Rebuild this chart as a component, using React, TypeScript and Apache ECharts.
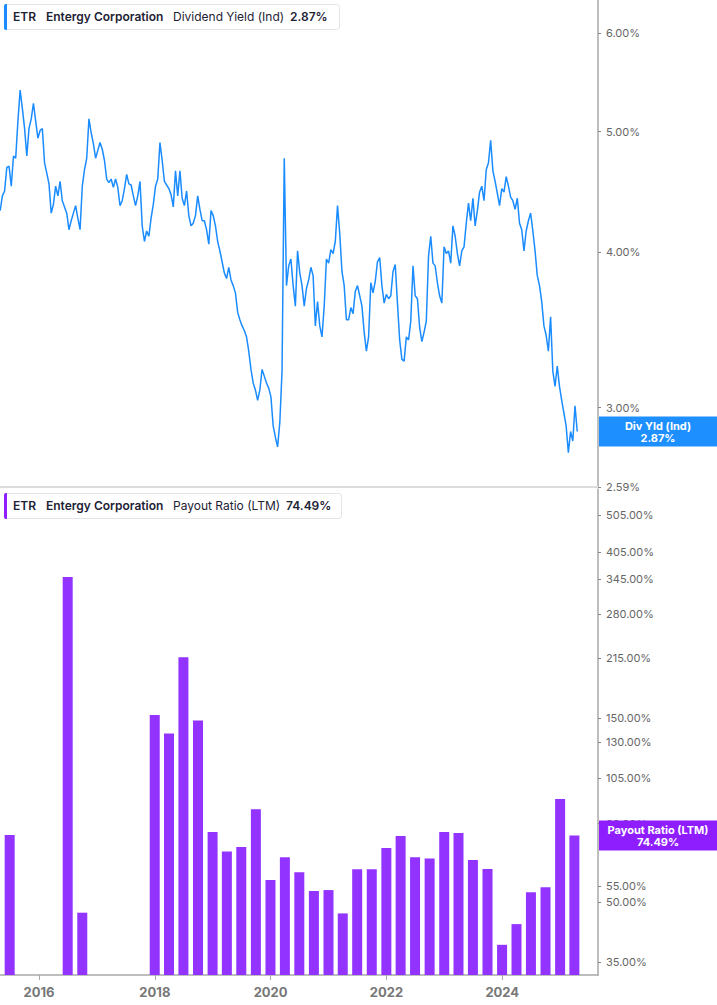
import * as echarts from 'echarts';
import { useEffect, useRef } from 'react';

// Dividend yield (Ind), %, one reading every two weeks from 2015-05-01
const yieldStart = '2015-05-01';
const yieldStepDays = 14;
const dividendYield = [
  4.32, 4.44, 4.48, 4.68, 4.69, 4.52, 4.78, 4.76, 5.10, 5.40,
  5.22, 5.03, 4.78, 5.03, 5.12, 5.27, 5.10, 4.94, 5.01, 5.03,
  4.72, 4.63, 4.54, 4.30, 4.37, 4.52, 4.44, 4.56, 4.40, 4.35,
  4.30, 4.17, 4.24, 4.30, 4.36, 4.26, 4.17, 4.52, 4.66, 4.76,
  5.12, 4.99, 4.89, 4.76, 4.83, 4.90, 4.84, 4.74, 4.58, 4.55,
  4.58, 4.51, 4.58, 4.51, 4.36, 4.40, 4.50, 4.62, 4.54, 4.53,
  4.44, 4.36, 4.44, 4.56, 4.20, 4.08, 4.16, 4.12, 4.26, 4.37,
  4.52, 4.58, 4.90, 4.74, 4.56, 4.53, 4.50, 4.45, 4.35, 4.65,
  4.44, 4.65, 4.42, 4.36, 4.48, 4.28, 4.20, 4.22, 4.28, 4.44,
  4.33, 4.24, 4.24, 4.17, 4.06, 4.32, 4.28, 4.20, 4.08, 4.01,
  3.93, 3.85, 3.81, 3.89, 3.80, 3.76, 3.71, 3.58, 3.53, 3.49,
  3.46, 3.42, 3.33, 3.22, 3.14, 3.10, 3.04, 3.10, 3.22, 3.18,
  3.14, 3.11, 3.06, 2.90, 2.84, 2.79, 2.92, 3.21, 4.76, 3.76,
  3.90, 3.95, 3.76, 3.62, 4.01, 3.85, 3.76, 3.62, 3.74, 3.80,
  3.89, 3.83, 3.49, 3.65, 3.49, 3.42, 3.62, 3.95, 3.92, 4.02,
  3.99, 4.08, 4.36, 4.14, 3.86, 3.76, 3.53, 3.53, 3.61, 3.57,
  3.72, 3.76, 3.69, 3.62, 3.45, 3.33, 3.42, 3.78, 3.71, 3.79,
  3.93, 3.96, 3.76, 3.64, 3.70, 3.67, 3.69, 3.86, 3.91, 3.64,
  3.40, 3.28, 3.27, 3.42, 3.40, 3.52, 3.90, 3.69, 3.67, 3.48,
  3.39, 3.45, 3.52, 3.97, 4.12, 3.92, 3.90, 3.78, 3.69, 3.64,
  4.04, 3.99, 4.01, 3.92, 4.20, 4.12, 3.99, 3.90, 4.01, 4.04,
  4.22, 4.38, 4.24, 4.42, 4.20, 4.32, 4.47, 4.52, 4.40, 4.66,
  4.72, 4.92, 4.65, 4.56, 4.46, 4.36, 4.50, 4.47, 4.60, 4.52,
  4.43, 4.40, 4.33, 4.42, 4.22, 4.17, 4.01, 4.16, 4.24, 4.30,
  4.16, 4.01, 3.83, 3.76, 3.65, 3.49, 3.43, 3.33, 3.55, 3.21,
  3.12, 3.24, 3.12, 3.04, 2.97, 2.90, 2.76, 2.87, 2.82, 3.01, 2.87,
];

// Payout ratio (LTM), %, quarter ends (negative quarters not shown)
const payoutDates = [
  '2015-06-30', '2016-06-30', '2016-09-30',
  '2017-12-31', '2018-03-31', '2018-06-30', '2018-09-30', '2018-12-31',
  '2019-03-31', '2019-06-30', '2019-09-30', '2019-12-31',
  '2020-03-31', '2020-06-30', '2020-09-30', '2020-12-31',
  '2021-03-31', '2021-06-30', '2021-09-30', '2021-12-31',
  '2022-03-31', '2022-06-30', '2022-09-30', '2022-12-31',
  '2023-03-31', '2023-06-30', '2023-09-30', '2023-12-31',
  '2024-03-31', '2024-06-30', '2024-09-30', '2024-12-31',
  '2025-03-31',
];
const payoutRatio = [
  74.8, 349, 47.0,
  153, 137, 216, 148, 76.1,
  67.7, 69.6, 87.2, 57.1,
  65.4, 59.8, 53.5, 53.8,
  46.8, 60.9, 60.9, 69.2,
  74.3, 65.4, 65.0, 76.1,
  75.7, 64.4, 61.0, 38.8,
  43.9, 53.1, 54.7, 92.7,
  74.49,
];

const yieldTicks = [2.59, 3, 4, 5, 6];
const payoutTicks = [35, 50, 55, 80, 105, 130, 150, 215, 280, 345, 405, 505];
const yearTicks = ['2016-01-01', '2018-01-01', '2020-01-01', '2022-01-01', '2024-01-01'];

const X_MIN = '2015-04-30';
const X_MAX = '2025-08-27';
const YIELD_MIN = 2.59;
const YIELD_MAX = 6.38;
const PAYOUT_MIN = 32.4;
const PAYOUT_MAX = 590;

const BLUE = '#1a8cff';
const PURPLE = '#9333ff';
const FONT = 'Inter, "Noto Sans", sans-serif';

const ts = (s: string) => new Date(s + 'T00:00:00').getTime();
const pct = (v: number) => Math.exp(v).toFixed(2) + '%';

function yieldDates() {
  const start = new Date(yieldStart + 'T00:00:00');
  return dividendYield.map((_, i) => {
    const d = new Date(start.getTime());
    d.setDate(d.getDate() + i * yieldStepDays);
    return d.getTime();
  });
}

function legendBox(y: number, width: number, color: string, metric: string, value: string, valueX: number) {
  const cy = y + 12.5;
  const txt = (x: number, text: string, weight: string) => ({
    type: 'text',
    x,
    y: cy,
    z: 50,
    style: { text, fill: '#1d2235', font: `${weight} 12px ${FONT}`, verticalAlign: 'middle' },
  });
  return [
    {
      type: 'rect',
      shape: { x: 4.5, y: y + 0.5, width, height: 25, r: 3 },
      style: { fill: '#fff', stroke: '#e4e4e7', lineWidth: 1 },
      z: 49,
    },
    { type: 'rect', shape: { x: 4, y, width: 3, height: 26, r: [2, 0, 0, 2] }, style: { fill: color }, z: 50 },
    txt(13, 'ETR', '600'),
    txt(46, 'Entergy Corporation', '600'),
    txt(173, metric, '400'),
    txt(valueX, value, '600'),
  ];
}

function valueBox(cy: number, color: string, label: string, value: string) {
  return [
    { type: 'rect', shape: { x: 599, y: cy - 15, width: 118, height: 30 }, style: { fill: color }, z: 100 },
    {
      type: 'text',
      x: 658,
      y: cy,
      z: 101,
      style: {
        text: `${label}\n${value}`,
        fill: '#fff',
        font: `bold 11px ${FONT}`,
        align: 'center',
        verticalAlign: 'middle',
        lineHeight: 12,
      },
    },
  ];
}

export default function App() {
  const chartRef = useRef<HTMLDivElement>(null);

  useEffect(() => {
    if (!chartRef.current) return;
    const chart = echarts.init(chartRef.current, null, { renderer: 'svg' });

    const dates = yieldDates();
    const lineData = dividendYield.map((v, i) => [dates[i], Math.log(v)]);
    const barData = payoutRatio.map((v, i) => [ts(payoutDates[i]), Math.log(v)]);
    const lastYield = dividendYield[dividendYield.length - 1];
    const lastPayout = payoutRatio[payoutRatio.length - 1];

    const yAxisCommon = {
      type: 'value',
      position: 'right',
      scale: true,
      splitLine: { show: false },
      axisLine: { show: true, lineStyle: { color: '#a8a8a8', width: 1.5 } },
      axisTick: { show: true, length: 3, lineStyle: { color: '#888' } },
      axisLabel: { color: '#666', fontSize: 11, fontFamily: FONT, margin: 8, formatter: pct },
    };

    const xAxisCommon = {
      type: 'value',
      min: ts(X_MIN),
      max: ts(X_MAX),
      splitLine: { show: false },
    };

    chart.setOption({
      animation: false,
      textStyle: { fontFamily: FONT },
      grid: [
        { left: 0, right: 119, top: 0, height: 487 },
        { left: 0, right: 119, top: 489, bottom: 30 },
      ],
      xAxis: [
        {
          ...xAxisCommon,
          gridIndex: 0,
          axisLine: { show: true, onZero: false, lineStyle: { color: '#dcdcdc', width: 2 } },
          axisTick: { show: false },
          axisLabel: { show: false },
        },
        {
          ...xAxisCommon,
          gridIndex: 1,
          axisLine: { show: true, onZero: false, lineStyle: { color: '#a8a8a8', width: 1.5 } },
          axisTick: { show: true, length: 5, customValues: yearTicks.map(ts), lineStyle: { color: '#a8a8a8' } },
          axisLabel: {
            customValues: yearTicks.map(ts),
            color: '#777',
            fontSize: 13,
            fontWeight: 'bold',
            fontFamily: FONT,
            margin: 10,
            formatter: (v: number) => String(new Date(v).getFullYear()),
          },
        },
      ],
      yAxis: [
        {
          ...yAxisCommon,
          gridIndex: 0,
          min: Math.log(YIELD_MIN),
          max: Math.log(YIELD_MAX),
          axisTick: { ...yAxisCommon.axisTick, customValues: yieldTicks.map(Math.log) },
          axisLabel: { ...yAxisCommon.axisLabel, customValues: yieldTicks.map(Math.log) },
        },
        {
          ...yAxisCommon,
          gridIndex: 1,
          min: Math.log(PAYOUT_MIN),
          max: Math.log(PAYOUT_MAX),
          axisTick: { ...yAxisCommon.axisTick, customValues: payoutTicks.map(Math.log) },
          axisLabel: { ...yAxisCommon.axisLabel, customValues: payoutTicks.map(Math.log) },
        },
      ],
      series: [
        {
          name: 'Dividend Yield (Ind)',
          type: 'line',
          xAxisIndex: 0,
          yAxisIndex: 0,
          data: lineData,
          showSymbol: false,
          lineStyle: { color: BLUE, width: 1.5 },
          itemStyle: { color: BLUE },
        },
        {
          name: 'Payout Ratio (LTM)',
          type: 'bar',
          xAxisIndex: 1,
          yAxisIndex: 1,
          data: barData,
          barWidth: 10,
          clip: true,
          itemStyle: { color: PURPLE },
        },
      ],
    });

    const yieldY = chart.convertToPixel({ xAxisIndex: 0, yAxisIndex: 0 }, [dates[dates.length - 1], Math.log(lastYield)])[1];
    const payoutY = chart.convertToPixel(
      { xAxisIndex: 1, yAxisIndex: 1 },
      [ts(payoutDates[payoutDates.length - 1]), Math.log(lastPayout)]
    )[1];

    chart.setOption({
      graphic: [
        ...legendBox(4, 335, BLUE, 'Dividend Yield (Ind)', lastYield.toFixed(2) + '%', 290),
        ...legendBox(493, 337, '#8f1eff', 'Payout Ratio (LTM)', lastPayout.toFixed(2) + '%', 286),
        ...valueBox(yieldY, '#1e8fff', 'Div Yld (Ind)', lastYield.toFixed(2) + '%'),
        ...valueBox(payoutY, '#8f1eff', 'Payout Ratio (LTM)', lastPayout.toFixed(2) + '%'),
      ],
    });

    return () => {
      chart.dispose();
    };
  }, []);

  return (
    <div
      ref={chartRef}
      style={{ position: 'absolute', left: 0, top: 0, width: '717px', height: '1005px', background: '#fff' }}
    />
  );
}
